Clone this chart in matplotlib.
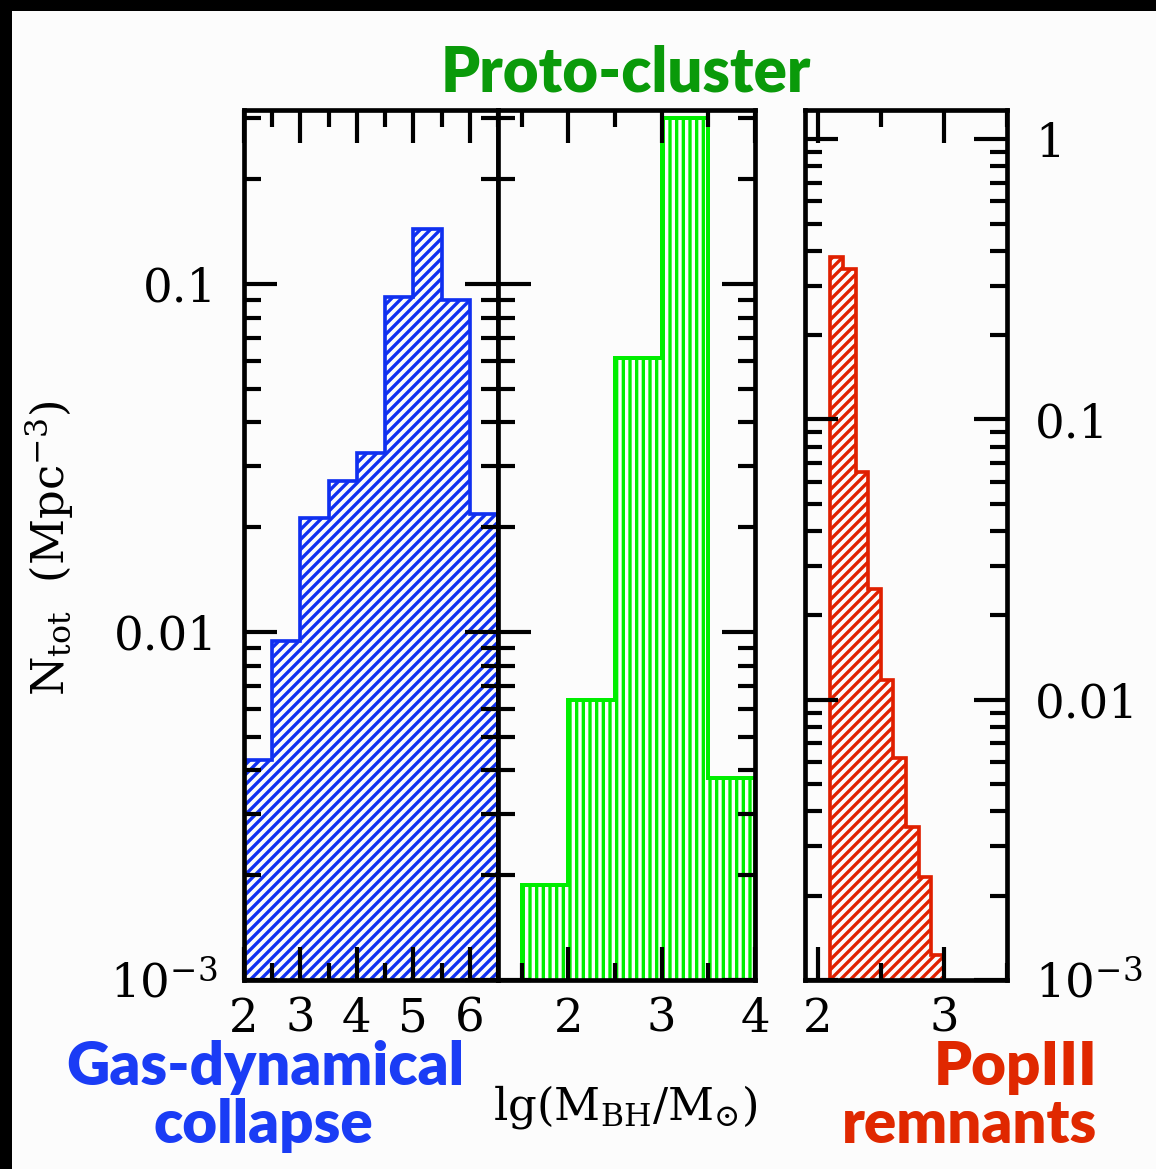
import numpy as np
import matplotlib
matplotlib.use("Agg")
import matplotlib.pyplot as plt
from matplotlib.ticker import MultipleLocator, LogLocator, NullFormatter, FixedLocator, FixedFormatter
from matplotlib.patches import Rectangle

# ---------------- data ----------------
gas_edges = [2.0, 2.5, 3.0, 3.5, 4.0, 4.5, 5.0, 5.5, 6.0, 6.5]
gas_values = [0.0043, 0.0094, 0.0213, 0.0272, 0.0327, 0.0918, 0.144, 0.090, 0.0218]

proto_edges = [1.5, 2.0, 2.5, 3.0, 3.5, 4.0]
proto_values = [0.00188, 0.00638, 0.0612, 0.300, 0.0038]

pop3_edges = [2.1, 2.2, 2.3, 2.4, 2.5, 2.6, 2.7, 2.8, 2.9, 3.0]
pop3_values = [0.379, 0.343, 0.0647, 0.0249, 0.0118, 0.00621, 0.00352, 0.00233, 0.00123]

left_yticks = [1e-3, 1e-2, 1e-1]
left_ylabels = [r'$10^{-3}$', '0.01', '0.1']
right_yticks = [1e-3, 1e-2, 1e-1, 1.0]
right_ylabels = [r'$10^{-3}$', '0.01', '0.1', '1']

gas_xticks = [2, 3, 4, 5, 6]
proto_xticks = [2, 3, 4]
pop3_xticks = [2, 3]

# ---------------- style ----------------
W, H, DPI = 1156, 1169, 120
plt.rcParams['font.family'] = ['DejaVu Serif']
plt.rcParams['mathtext.fontset'] = 'dejavuserif'
plt.rcParams['hatch.linewidth'] = 2.0

BG = '#fcfcfc'
BLUE = '#1030f0'
GREEN = '#00ee00'
RED = '#e02000'

fig = plt.figure(figsize=(W / DPI, H / DPI), dpi=DPI, facecolor=BG)

# black border strips (top, left)
fig.patches.append(Rectangle((0, 1 - 11 / H), 1, 11 / H, transform=fig.transFigure,
                             facecolor='black', edgecolor='none', zorder=0))
fig.patches.append(Rectangle((0, 0), 12 / W, 1, transform=fig.transFigure,
                             facecolor='black', edgecolor='none', zorder=0))


def px_axes(x0, x1, y0, y1):
    return fig.add_axes([x0 / W, 1 - y1 / H, (x1 - x0) / W, (y1 - y0) / H])


ax1 = px_axes(244, 498, 110, 980)
ax2 = px_axes(498, 755, 110, 980)
ax3 = px_axes(805, 1007, 110, 980)

TICKFS = 28


def style(ax, xlim, ylim, xticks, xminor):
    ax.set_facecolor(BG)
    ax.set_yscale('log')
    ax.set_xlim(*xlim)
    ax.set_ylim(*ylim)
    for s in ax.spines.values():
        s.set_linewidth(2.8)
    ax.xaxis.set_major_locator(FixedLocator(xticks))
    ax.xaxis.set_major_formatter(FixedFormatter([str(t) for t in xticks]))
    ax.xaxis.set_minor_locator(MultipleLocator(xminor))
    ax.yaxis.set_minor_locator(LogLocator(base=10, subs=np.arange(2, 10), numticks=20))
    ax.yaxis.set_minor_formatter(NullFormatter())
    ax.tick_params(which='both', direction='in', top=True, right=True, width=2.5,
                   labelsize=TICKFS)
    ax.tick_params(which='major', length=20)
    ax.tick_params(which='minor', length=10)
    ax.tick_params(axis='x', pad=10)


style(ax1, (2.0, 6.5), (1e-3, 10 ** -0.5), gas_xticks, 0.5)
style(ax2, (1.245, 4.0), (1e-3, 10 ** -0.5), proto_xticks, 0.5)
style(ax3, (1.9, 3.5), (1e-3, 10 ** 0.104), pop3_xticks, 0.5)

ax1.yaxis.set_major_locator(FixedLocator(left_yticks))
ax1.yaxis.set_major_formatter(FixedFormatter(left_ylabels))
ax1.tick_params(axis='y', labelleft=True, labelright=False, pad=16)

ax2.yaxis.set_major_locator(FixedLocator(left_yticks))
ax2.tick_params(axis='y', labelleft=False, labelright=False)

ax3.yaxis.set_major_locator(FixedLocator(right_yticks))
ax3.yaxis.set_major_formatter(FixedFormatter(right_ylabels))
ax3.tick_params(axis='y', labelleft=False, labelright=True, pad=17)

# histograms
ax1.stairs(gas_values, gas_edges, baseline=1e-3, fill=True, facecolor=BG,
           edgecolor=BLUE, hatch='////', linewidth=2.2, zorder=1)
ax2.stairs(proto_values, proto_edges, baseline=1e-3, fill=True, facecolor=BG,
           edgecolor=GREEN, hatch='|||', linewidth=2.4, zorder=1)
ax3.stairs(pop3_values, pop3_edges, baseline=1e-3, fill=True, facecolor=BG,
           edgecolor=RED, hatch='////', linewidth=2.2, zorder=1)

# axis labels
fig.text(625 / W, 1 - 1107 / H, r'lg(M$_{\rm BH}$/M$_{\odot}$)', ha='center', va='center',
         fontsize=27)
fig.text(50 / W, 1 - 548 / H, r'N$_{\rm tot}$  (Mpc$^{-3}$)', ha='center', va='center',
         rotation=90, fontsize=27)

# coloured annotations
LAB = dict(family=['Lato', 'DejaVu Sans'], fontweight='heavy', fontsize=36)
fig.text(626 / W, 1 - 92 / H, 'Proto-cluster', ha='center', va='baseline',
         color='#0a9a0a', fontsize=37, family=['Lato', 'DejaVu Sans'], fontweight='heavy')
fig.text(265 / W, 1 - 1085 / H, 'Gas-dynamical', ha='center', va='baseline',
         color='#1a3cf5', **LAB)
fig.text(263 / W, 1 - 1143 / H, 'collapse', ha='center', va='baseline',
         color='#1a3cf5', **LAB)
fig.text(1097 / W, 1 - 1085 / H, 'PopIII', ha='right', va='baseline',
         color='#e02800', **LAB)
fig.text(1097 / W, 1 - 1143 / H, 'remnants', ha='right', va='baseline',
         color='#e02800', **LAB)

fig.savefig('out.png', dpi=DPI, facecolor=BG)
